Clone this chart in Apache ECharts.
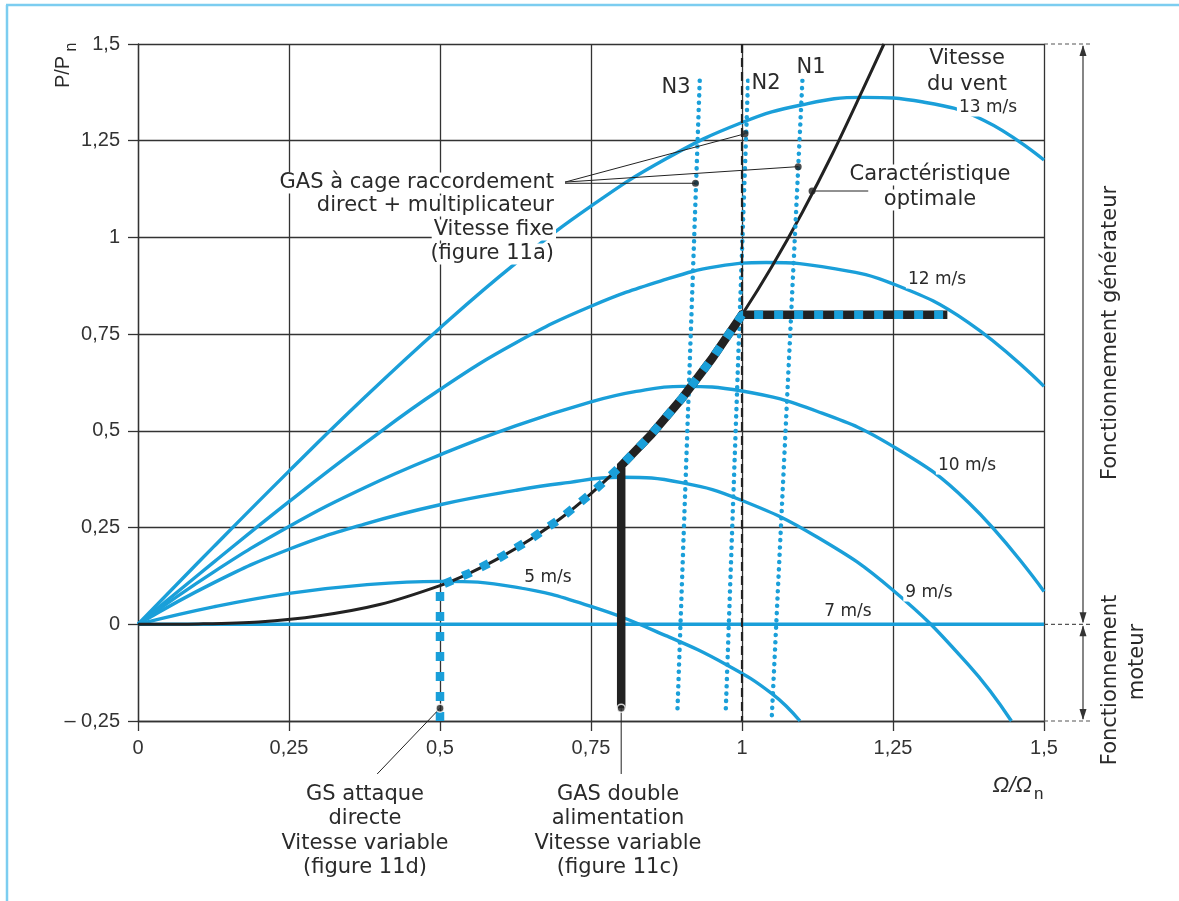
<!DOCTYPE html>
<html><head><meta charset="utf-8">
<script src="https://cdn.jsdelivr.net/npm/echarts/dist/echarts.min.js"></script>
<style>html,body{margin:0;padding:0;background:#fff}#c{width:1179px;height:901px}</style>
</head><body><div id="c"></div>
<script>
// ---- data ----
const xTicks = [0, 0.25, 0.5, 0.75, 1, 1.25, 1.5];
const yTicks = [-0.25, 0, 0.25, 0.5, 0.75, 1, 1.25, 1.5];
const windLabels = ['13 m/s', '12 m/s', '10 m/s', '9 m/s', '7 m/s', '5 m/s'];
const wind13 = [[0,0],[0.125,0.2],[0.25,0.396],[0.375,0.586],[0.5,0.766],[0.625,0.933],[0.75,1.081],[0.875,1.204],[1,1.297],[1.1,1.343],[1.2,1.362],[1.3,1.35],[1.4,1.303],[1.5,1.2]];
const wind12 = [[0,0],[0.125,0.16],[0.25,0.317],[0.375,0.467],[0.5,0.607],[0.625,0.727],[0.75,0.822],[0.875,0.892],[0.96,0.925],[1.04,0.935],[1.15,0.92],[1.25,0.88],[1.375,0.78],[1.5,0.615]];
const wind10 = [[0,0],[0.125,0.135],[0.25,0.253],[0.375,0.353],[0.5,0.438],[0.625,0.513],[0.75,0.575],[0.825,0.602],[0.9,0.615],[1,0.603],[1.125,0.55],[1.25,0.46],[1.375,0.315],[1.5,0.085]];
const wind9 = [[0,0],[0.125,0.107],[0.25,0.194],[0.375,0.259],[0.5,0.309],[0.625,0.346],[0.7,0.364],[0.8,0.38],[0.9,0.366],[1,0.32],[1.125,0.225],[1.25,0.088],[1.375,-0.105],[1.446,-0.25]];
const wind7 = [[0,0],[1.5,0]];
const wind5 = [[0,0],[0.125,0.045],[0.25,0.08],[0.375,0.102],[0.5,0.111],[0.625,0.096],[0.75,0.046],[0.875,-0.03],[0.975,-0.105],[1.05,-0.18],[1.096,-0.25]];
const optimal = [[0,0],[0.1,0.001],[0.2,0.006],[0.3,0.022],[0.4,0.051],[0.5,0.1],[0.55,0.133],[0.6,0.173],[0.65,0.22],[0.7,0.274],[0.75,0.338],[0.8,0.41],[0.85,0.491],[0.9,0.583],[0.95,0.686],[1,0.8],[1.05,0.926],[1.1,1.065],[1.15,1.217],[1.2,1.382],[1.235,1.5]];
const n3 = [[0.93,1.405],[0.893,-0.228]];
const n2 = [[1.01,1.405],[0.973,-0.228]];
const n1 = [[1.10,1.405],[1.049,-0.25]];
const nominalSpeed = [[1,1.5],[1,-0.25]];
const plateauEnd = [1.34, 0.8];
const gsStart = [[0.5,-0.25],[0.5,0.1]];
const dfigStart = [[0.8,-0.217],[0.8,0.41]];
const fixedDots = [[1.005,1.268],[1.093,1.183],[0.923,1.14]];
const optimalDot = [1.116,1.12];
const bottomDots = [[0.5,-0.217],[0.8,-0.217]];

// ---- style ----
const BLUE = '#1a9fd9';
const INK = '#222';
const FONT = 'DejaVu Sans';
const fmt = v => v < 0 ? '\u2013 ' + String(-v).replace('.', ',') : String(v).replace('.', ',');

const seg = (a, b) => optimal.filter(p => p[0] >= a - 1e-9 && p[0] <= b + 1e-9);
const gsPath = gsStart.concat(seg(0.55, 1)).concat([plateauEnd]);
const dfigPath = dfigStart.concat(seg(0.85, 1)).concat([plateauEnd]);

function line(name, data, style, extra) {
  return Object.assign({type: 'line', name, data, symbol: 'none', showSymbol: false, silent: true,
    lineStyle: style, z: 3}, extra || {});
}
const windStyle = {color: BLUE, width: 3.4};
const dotted = {color: BLUE, width: 4.5, type: [0.1, 7.2], cap: 'round'};
const leader = {color: INK, width: 1};

const chart = echarts.init(document.getElementById('c'), null, {renderer: 'canvas'});
const axisCommon = {
  type: 'value',
  axisLine: {show: true, onZero: false, lineStyle: {color: '#333', width: 1.3}},
  splitLine: {show: true, lineStyle: {color: '#333', width: 1.3}},
  axisLabel: {formatter: fmt, fontSize: 20, color: '#333', fontFamily: 'Liberation Sans'}
};
chart.setOption({
  animation: false,
  backgroundColor: '#fff',
  grid: {left: 138, top: 44, width: 906, height: 677, containLabel: false, outerBoundsMode: 'none'},
  xAxis: Object.assign({}, axisCommon, {min: xTicks[0], max: xTicks[xTicks.length-1], interval: 0.25,
    axisTick: {show: true, length: 10, lineStyle: {color: '#333', width: 1.3}},
    axisLabel: Object.assign({}, axisCommon.axisLabel, {margin: 17})}),
  yAxis: Object.assign({}, axisCommon, {min: yTicks[0], max: yTicks[yTicks.length-1], interval: 0.25,
    axisTick: {show: true, length: 10, lineStyle: {color: '#333', width: 1.3}},
    axisLabel: Object.assign({}, axisCommon.axisLabel, {margin: 18})}),
  series: [
    line(windLabels[0], wind13, windStyle, {smooth: 0.45}),
    line(windLabels[1], wind12, windStyle, {smooth: 0.45}),
    line(windLabels[2], wind10, windStyle, {smooth: 0.45}),
    line(windLabels[3], wind9, windStyle, {smooth: 0.45}),
    line(windLabels[4], wind7, windStyle),
    line(windLabels[5], wind5, windStyle, {smooth: 0.45}),
    line('optimal', optimal, {color: INK, width: 3}, {smooth: 0.3, z: 4}),
    line('N3', n3, dotted, {z: 5}),
    line('N2', n2, dotted, {z: 5}),
    line('N1', n1, dotted, {z: 5}),
    line('nominal', nominalSpeed, {color: INK, width: 2.2, type: [9, 5]}, {z: 5}),
    line('GAS double alimentation', dfigPath, {color: INK, width: 8.5, join: 'miter'}, {z: 6}),
    line('GS attaque directe', gsPath, {color: BLUE, width: 8.5, type: [9, 11]}, {z: 7}),
    line('l1', [[0.707,1.143], fixedDots[0]], leader, {z: 8, clip: false}),
    line('l2', [[0.707,1.143], fixedDots[1]], leader, {z: 8, clip: false}),
    line('l3', [[0.707,1.14], fixedDots[2]], leader, {z: 8, clip: false}),
    line('l4', [optimalDot, [1.209, 1.12]], leader, {z: 8, clip: false}),
    line('l5', [bottomDots[0], [0.396, -0.387]], leader, {z: 8, clip: false}),
    line('l6', [bottomDots[1], [0.8, -0.387]], leader, {z: 8, clip: false}),
    {type: 'scatter', data: fixedDots.concat([optimalDot]), symbolSize: 7, itemStyle: {color: INK}, z: 9, silent: true},
    {type: 'scatter', data: bottomDots, symbolSize: 8, clip: false, itemStyle: {color: INK, borderColor: '#fff', borderWidth: 1.5}, z: 9, silent: true}
  ]
});

// ---- annotations ----
const g = [];
function txt(t, x, y, o) {
  o = o || {};
  g.push({type: 'text', x, y, z: 50, rotation: o.rot || 0, silent: true,
    style: {text: t, fill: '#2a2a2a', font: (o.it ? 'italic ' : '') + (o.s || 21) + 'px "' + (o.f || FONT) + '"',
      align: o.a || 'center', verticalAlign: 'middle',
      backgroundColor: o.bg === false ? null : '#fff', padding: o.bg === false ? 0 : [0, 2]}});
}
txt('N3', 676, 88); txt('N2', 766, 84); txt('N1', 811, 68);
txt('Vitesse', 967, 59); txt('du vent', 967, 85);
txt(windLabels[0], 988, 108, {s: 17});
txt(windLabels[1], 937, 280, {s: 17});
txt(windLabels[2], 967, 466, {s: 17});
txt(windLabels[3], 929, 593, {s: 17});
txt(windLabels[4], 848, 612, {s: 17});
txt(windLabels[5], 548, 578, {s: 17});
txt('GAS à cage raccordement', 556, 183, {a: 'right'});
txt('direct + multiplicateur', 556, 206, {a: 'right'});
txt('Vitesse fixe', 556, 230, {a: 'right'});
txt('(figure 11a)', 556, 254, {a: 'right'});
txt('Caractéristique', 930, 175);
txt('optimale', 930, 200);
txt('GS attaque', 365, 795, {bg: false}); txt('directe', 365, 819, {bg: false});
txt('Vitesse variable', 365, 844, {bg: false}); txt('(figure 11d)', 365, 868, {bg: false});
txt('GAS double', 618, 795, {bg: false}); txt('alimentation', 618, 819, {bg: false});
txt('Vitesse variable', 618, 844, {bg: false}); txt('(figure 11c)', 618, 868, {bg: false});
// axis names
txt('\u03A9/\u03A9', 1032, 786, {a: 'right', s: 22, it: true, f: 'Liberation Sans', bg: false});
txt('n', 1034, 794, {a: 'left', s: 17, f: 'Liberation Sans', bg: false});
txt('P/P', 63, 72, {rot: Math.PI/2, s: 20, f: 'Liberation Sans', bg: false});
txt('n', 72, 47, {rot: Math.PI/2, s: 16, f: 'Liberation Sans', bg: false});
// right-hand operating zones
txt('Fonctionnement générateur', 1111, 333, {rot: Math.PI/2, bg: false});
txt('Fonctionnement', 1111, 680, {rot: Math.PI/2, bg: false});
txt('moteur', 1138, 662, {rot: Math.PI/2, bg: false});

const px = v => chart.convertToPixel({gridIndex: 0}, v);
const xr = px([1.5, 0])[0];
const yTop = px([0, 1.5])[1], yZero = px([0, 0])[1], yBot = px([0, -0.25])[1];
const ax = 1083;
[yTop, yZero, yBot].forEach(y => g.push({type: 'line', z: 40, silent: true,
  shape: {x1: xr, y1: y, x2: ax + 8, y2: y}, style: {stroke: '#555', lineWidth: 1.2, lineDash: [4, 3]}}));
function vline(y1, y2) {
  g.push({type: 'line', z: 40, silent: true, shape: {x1: ax, y1, x2: ax, y2}, style: {stroke: '#444', lineWidth: 1.3}});
}
function arrow(y, dir) { // dir -1 points up, +1 points down
  g.push({type: 'polygon', z: 41, silent: true, shape: {points: [[ax, y], [ax - 3.5, y - dir * 11], [ax + 3.5, y - dir * 11]]}, style: {fill: '#333'}});
}
vline(yTop + 2, yZero - 2); arrow(yTop + 1, -1); arrow(yZero - 1, 1);
vline(yZero + 2, yBot - 2); arrow(yZero + 1, -1); arrow(yBot - 1, 1);
// page frame
g.push({type: 'line', z: 60, silent: true, shape: {x1: 6, y1: 5, x2: 1179, y2: 5}, style: {stroke: '#7ccdf0', lineWidth: 2.5}});
g.push({type: 'line', z: 60, silent: true, shape: {x1: 7, y1: 5, x2: 7, y2: 901}, style: {stroke: '#7ccdf0', lineWidth: 2.5}});
chart.setOption({graphic: g});
</script>
</body></html>
